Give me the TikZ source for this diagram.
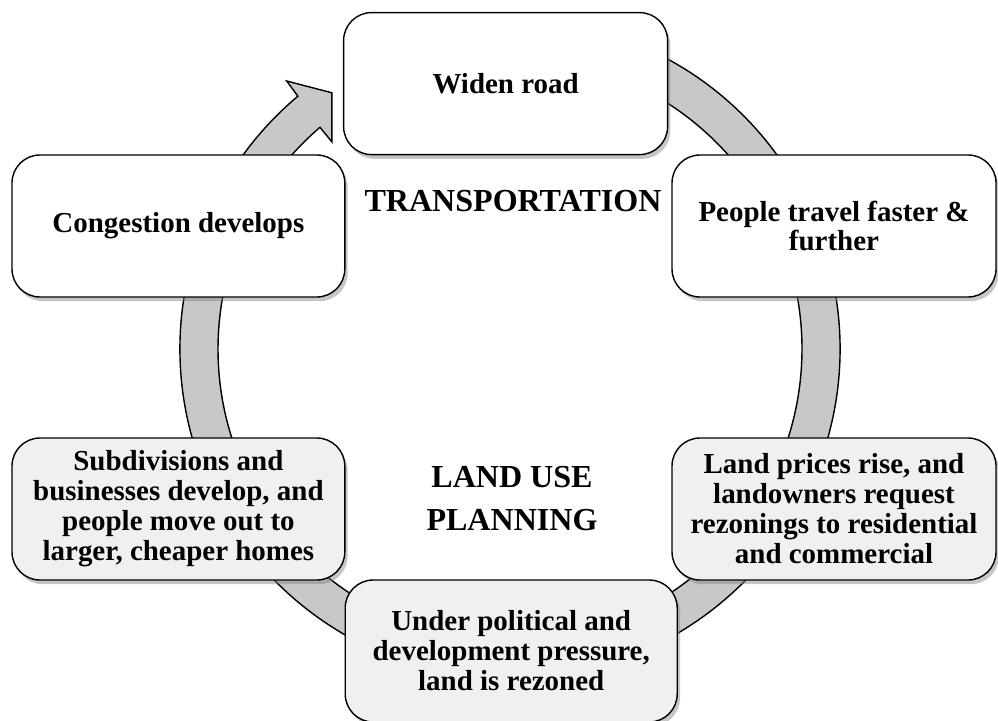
\documentclass[tikz,border=0pt]{standalone}
\usepackage{fontspec}
\setmainfont{Liberation Serif}
\usepackage{tikz}
\usetikzlibrary{shadows}
\definecolor{ringgray}{RGB}{200,200,200}
\definecolor{boxgray}{RGB}{240,240,240}
\tikzset{
  stage/.style={draw, line width=1pt, rounded corners=0.7cm, fill=white,
    align=center, font=\bfseries\fontsize{20.6}{21.3}\selectfont,
    minimum height=3.55cm, inner sep=2pt,
    drop shadow={shadow xshift=2pt, shadow yshift=-3pt, opacity=0.45}},
  stagelow/.style={stage, fill=boxgray},
  area/.style={align=center, font=\bfseries\fontsize{22.8}{30.6}\selectfont}
}

\begin{document}
\begin{tikzpicture}
  \useasboundingbox (0, 0) rectangle (24.95, 18);
  % cycle arrow behind the boxes
  \begin{scope}[shift={(12.75, 9.275)}]
    \filldraw[fill=ringgray, line width=1pt, line join=miter]
      (70:8.25) arc[start angle=70, end angle=-230, radius=8.25]
      -- (129.8:8.72) -- (124.8:7.8) -- (130.7:6.83) -- (130.6:7.3)
      arc[start angle=-229.4, end angle=70, radius=7.3] -- cycle;
  \end{scope}
  % transportation side
  \node[stage, minimum width=8.1cm] (widen) at (12.64, 15.91) {Widen road};
  \node[stage, minimum width=8.1cm] (travel) at (20.85, 12.35) {People travel faster \&\\further};
  \node[stage, minimum width=8.32cm] (congest) at (4.46, 12.35) {Congestion develops};
  % land use side
  \node[stagelow, minimum width=8.1cm] (prices) at (20.85, 5.275)
    {Land prices rise, and\\landowners request\\rezonings to residential\\and commercial};
  \node[stagelow, minimum width=8.3cm] (rezone) at (12.78, 1.725)
    {Under political and\\development pressure,\\land is rezoned};
  \node[stagelow, minimum width=8.32cm] (subdiv) at (4.46, 5.275)
    {Subdivisions and\\businesses develop, and\\people move out to\\larger, cheaper homes};
  \node[area] (transport) at (12.825, 12.975) {TRANSPORTATION};
  \node[area] (landuse) at (12.8, 5.54) {LAND USE\\PLANNING};
\end{tikzpicture}
\end{document}
